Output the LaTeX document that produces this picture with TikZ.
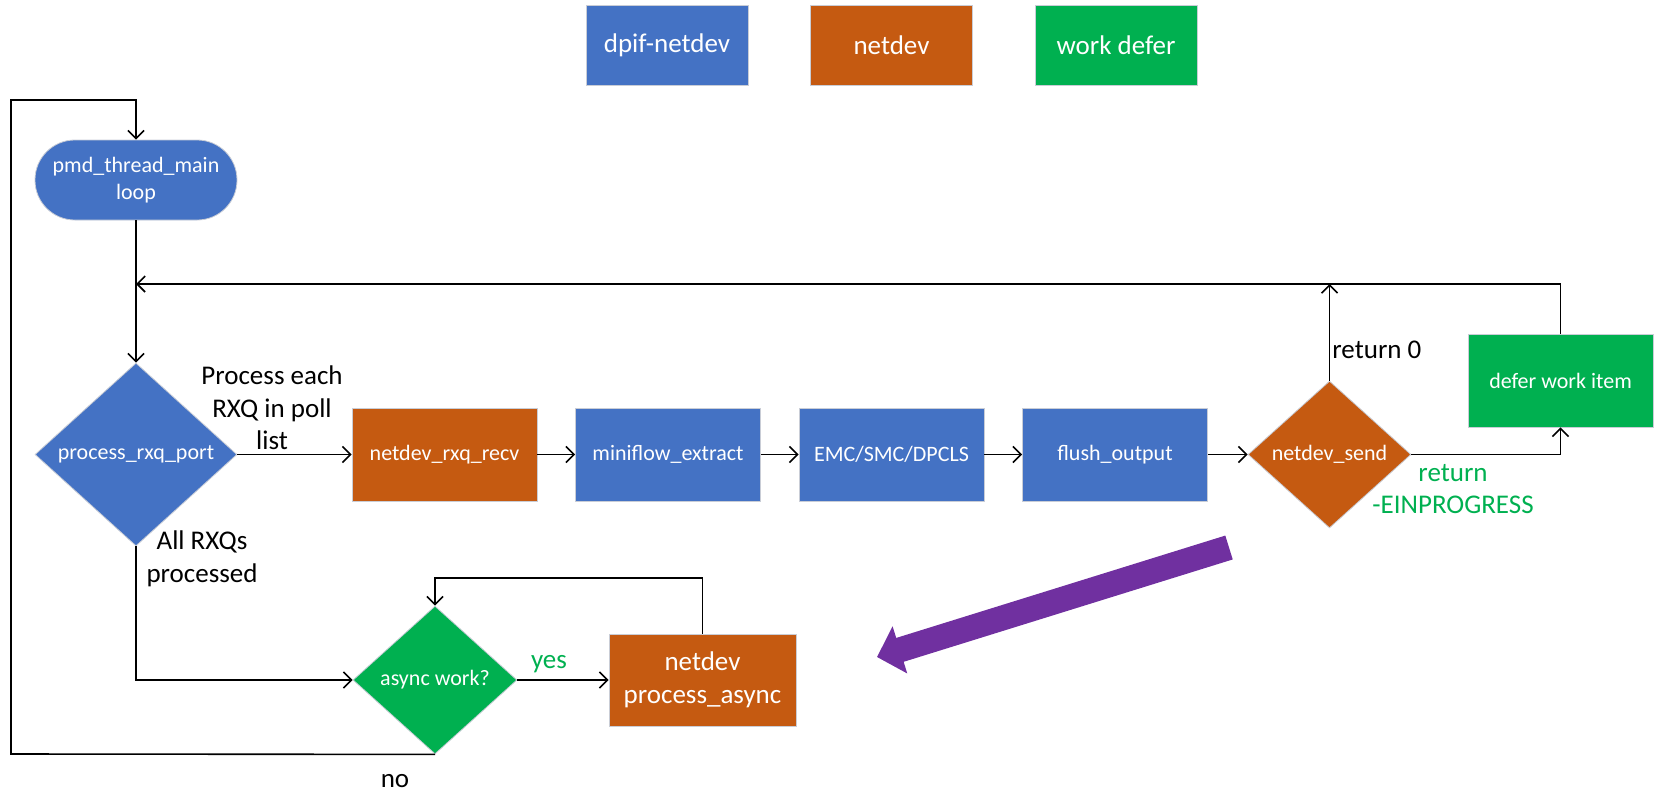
\documentclass[tikz,border=0pt]{standalone}
\usepackage{fontspec}
\setmainfont{Carlito}
\usetikzlibrary{arrows.meta,shapes.geometric}

\definecolor{dpifblue}{HTML}{4472C4}
\definecolor{netorange}{HTML}{C55A11}
\definecolor{defergreen}{HTML}{00B050}
\definecolor{hintpurple}{HTML}{7030A0}
\definecolor{edgegray}{HTML}{C9CDD6}

\tikzset{
  shapebase/.style={draw=edgegray, line width=0.4pt, text=white, inner sep=0pt,
    font=\fontsize{11}{13.5}\selectfont, align=center},
  procbox/.style={shapebase, rectangle, minimum width=92.5pt, minimum height=46.5pt},
  decision/.style={shapebase, diamond},
  legendbox/.style={shapebase, rectangle, minimum width=81pt, minimum height=40pt,
    font=\fontsize{13.5}{16.3}\selectfont},
  conn/.style={line width=0.8pt, -{Straight Barb[length=4pt,width=8pt]}},
  lbl/.style={font=\fontsize{13.5}{16.3}\selectfont, inner sep=0pt, align=center},
}

\begin{document}
\begin{tikzpicture}[x=0.5pt, y=-0.5pt]
\useasboundingbox (0,0) rectangle (1658,793);

% legend
\node[legendbox, fill=dpifblue]   (legdpif)  at (667,45)    {dpif-netdev};
\node[legendbox, fill=netorange]  (legnet)   at (891.5,45)  {netdev};
\node[legendbox, fill=defergreen] (legdefer) at (1116,45)   {work defer};

% main loop
\node[procbox, fill=dpifblue, rounded corners=19.9pt, minimum width=101pt,
      minimum height=40pt] (pmd) at (136,180) {pmd\_thread\_main\\loop};
\node[decision, fill=dpifblue, minimum width=101pt, minimum height=91.5pt]
      (rxq) at (136,454.5) {process\_rxq\_port};

% receive / process / send chain
\node[procbox, fill=netorange] (recv)  at (444.5,454.5) {netdev\_rxq\_recv};
\node[procbox, fill=dpifblue]  (mini)  at (668,454.5)   {miniflow\_extract};
\node[procbox, fill=dpifblue]  (emc)   at (891.5,454.5) {EMC/SMC/DPCLS};
\node[procbox, fill=dpifblue]  (flush) at (1115,454.5)  {flush\_output};
\node[decision, fill=netorange, minimum width=81.5pt, minimum height=73.5pt]
      (send) at (1329.5,454.5) {netdev\_send};
\node[procbox, fill=defergreen] (defer) at (1560.5,380.5) {defer work item};

% async work
\node[decision, fill=defergreen, minimum width=82pt, minimum height=74pt]
      (async) at (435,680) {async work?};
\node[procbox, fill=netorange, minimum width=93.5pt, minimum height=46pt,
      font=\fontsize{13.5}{16.3}\selectfont] (pasync) at (702.5,680)
      {netdev\\process\_async};

% labels
\node[lbl] (lpoll) at (272,408) {Process each\\RXQ in poll\\list};
\node[lbl] (ldone) at (202,559) {All RXQs\\processed};
\node[lbl, anchor=base west] (lret0) at (1332,358) {return 0};
\node[lbl, text=defergreen] (lretin) at (1453,489) {return\\-EINPROGRESS};
\node[lbl, text=defergreen, anchor=base] (lyes) at (549,668) {yes};
\node[lbl, anchor=base] (lno) at (395,787) {no};

% routing points
\coordinate (lbot)  at (11,754);
\coordinate (ltop)  at (11,100);
\coordinate (merge) at (136,284);
\coordinate (aloop) at (702,578);

% connectors
\draw[conn] (async.south) -- (lbot) -- (ltop) -| (pmd.north);
\draw[conn] (pmd.south) -- (rxq.north);
\draw[conn] (defer.north) |- (merge);
\draw[conn] (send.north) -- (send.north |- merge);
\draw[conn] (rxq.east) -- (recv.west);
\draw[conn] (recv.east) -- (mini.west);
\draw[conn] (mini.east) -- (emc.west);
\draw[conn] (emc.east) -- (flush.west);
\draw[conn] (flush.east) -- (send.west);
\draw[conn] (send.east) -| (defer.south);
\draw[conn] (rxq.south) |- (async.west);
\draw[conn] (async.east) -- (pasync.west);
\draw[conn] (pasync.north) -- (pasync.north |- aloop) -| (async.north);

% hint arrow
\coordinate (hintfrom) at (1229,547.5);
\coordinate (hintto)   at (877,657);
\draw[hintpurple, line width=12.5pt, -{Triangle[length=12pt,width=24pt]}]
  (hintfrom) -- (hintto);
\end{tikzpicture}
\end{document}
